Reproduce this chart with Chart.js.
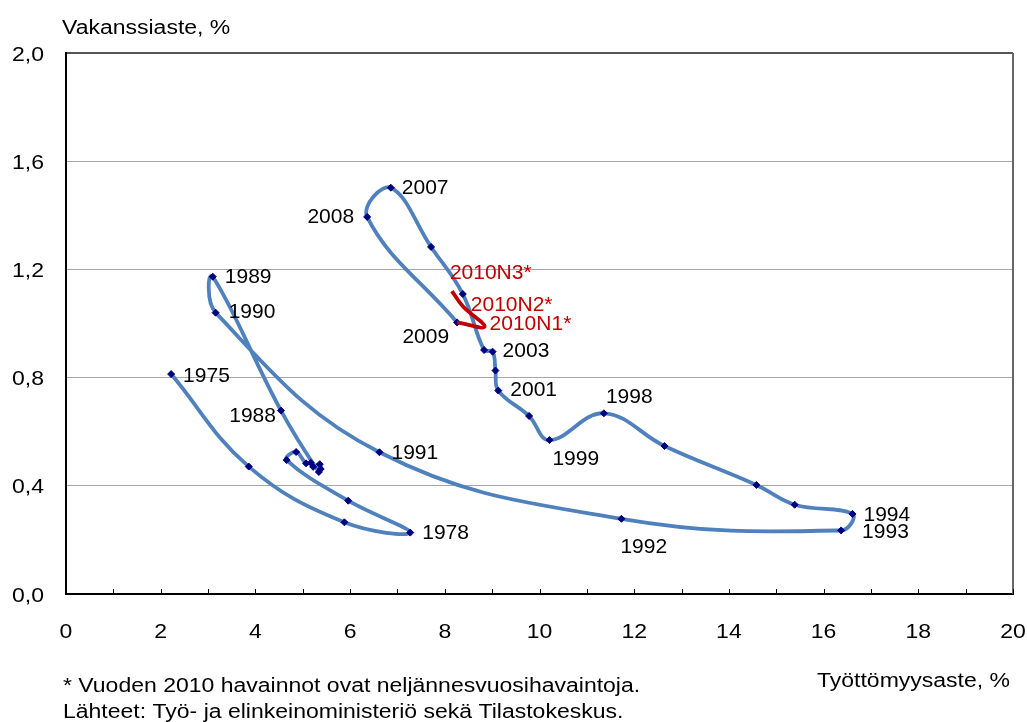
<!DOCTYPE html>
<html>
<head>
<meta charset="utf-8">
<script src="https://cdn.jsdelivr.net/npm/chart.js@4.4.1/dist/chart.umd.min.js"></script>
<style>
  html, body { margin: 0; padding: 0; background: #fff; }
  #wrap { width: 1027px; height: 722px; position: relative; }
</style>
</head>
<body>
<div id="wrap"><canvas id="beveridge"></canvas></div>
<script>
// Beveridge curve: unemployment rate (x) vs vacancy rate (y), Finland

const years = [
  '1975', '1976', '1977', '1978', '1979', '1980', '1981', '1982', '1983', '1984',
  '1985', '1986', '1987', '1988', '1989', '1990', '1991', '1992', '1993', '1994',
  '1995', '1996', '1997', '1998', '1999', '2000', '2001', '2002', '2003', '2004',
  '2005', '2006', '2007', '2008', '2009'
];
const unemployment = [
  2.22, 3.86, 5.88, 7.27, 5.96, 4.66, 4.86, 5.07, 5.17, 5.22,
  5.36, 5.38, 5.34, 4.54, 3.10, 3.16, 6.62, 11.73, 16.37, 16.61,
  15.39, 14.58, 12.64, 11.36, 10.21, 9.78, 9.13, 9.07, 9.01, 8.83,
  8.38, 7.71, 6.86, 6.36, 8.26
];
const vacancy = [
  0.813, 0.471, 0.265, 0.227, 0.345, 0.495, 0.525, 0.483, 0.485, 0.470,
  0.480, 0.462, 0.451, 0.678, 1.173, 1.040, 0.524, 0.278, 0.235, 0.296,
  0.330, 0.403, 0.547, 0.668, 0.569, 0.658, 0.752, 0.826, 0.896, 0.902,
  1.109, 1.283, 1.502, 1.394, 1.004
];

// 2010 quarterly observations, joined to 2009
const quarters = ['2009', '2010N1*', '2010N2*', '2010N3*'];
const quarterUnemployment = [8.26, 8.84, 8.38, 8.15];
const quarterVacancy = [1.004, 0.988, 1.064, 1.120];

const yTicks = [0, 0.4, 0.8, 1.2, 1.6, 2.0];
const xTicks = [0, 2, 4, 6, 8, 10, 12, 14, 16, 18, 20];

const FONT = 'Liberation Sans, Arial, sans-serif';
const BLUE = '#4f81bd';
const NAVY = '#000080';
const RED = '#c00000';
const STRETCH = 1.15; // axis text in the original is a bit wide

// where each year label sits relative to its point: [dx, dy, align]
const labelPlacement = {
  '1975': [12, 2, 'left'],
  '1978': [12, 1, 'left'],
  '1988': [-5, 6, 'right'],
  '1989': [12, 0, 'left'],
  '1990': [13, 0, 'left'],
  '1991': [12, 1, 'left'],
  '1992': [-1, 28, 'left'],
  '1993': [21, 2, 'left'],
  '1994': [11, 1, 'left'],
  '1998': [2, -16, 'left'],
  '1999': [3, 19, 'left'],
  '2001': [12, 0, 'left'],
  '2003': [10, 0, 'left'],
  '2007': [11, 0, 'left'],
  '2008': [-13, 0, 'right'],
  '2009': [-8, 15, 'right'],
};
const quarterPlacement = {
  '2010N1*': [5, -3, 'left'],
  '2010N2*': [8, -1, 'left'],
  '2010N3*': [-2, -18, 'left'],
};

const yearPoints = years.map((_, i) => ({ x: unemployment[i], y: vacancy[i] }));
const quarterPoints = quarters.map((_, i) => ({ x: quarterUnemployment[i], y: quarterVacancy[i] }));

function wideText(ctx, text, x, y, align) {
  ctx.save();
  ctx.translate(x, y);
  ctx.scale(STRETCH, 1);
  ctx.textAlign = align;
  ctx.fillText(text, 0, 0);
  ctx.restore();
}

const decorations = {
  id: 'decorations',
  afterDatasetsDraw(chart) {
    const { ctx, chartArea: a, scales } = chart;
    const xs = scales.x, ys = scales.y;
    ctx.save();

    // right frame edge
    ctx.strokeStyle = '#666';
    ctx.lineWidth = 2;
    ctx.beginPath();
    ctx.moveTo(a.right, a.top);
    ctx.lineTo(a.right, a.bottom);
    ctx.stroke();

    // tick marks pointing into the plot on the x axis
    ctx.strokeStyle = '#000';
    ctx.lineWidth = 1;
    xs.ticks.forEach(t => {
      const px = Math.round(xs.getPixelForValue(t.value)) + 0.5;
      ctx.beginPath();
      ctx.moveTo(px, a.bottom);
      ctx.lineTo(px, a.bottom - 5);
      ctx.stroke();
    });

    // tick labels
    ctx.fillStyle = '#000';
    ctx.font = '20px ' + FONT;
    ctx.textBaseline = 'middle';
    xs.ticks.forEach(t => {
      if (!xTicks.includes(t.value)) return;
      wideText(ctx, String(t.value), xs.getPixelForValue(t.value), 632, 'center');
    });
    ys.ticks.forEach(t => {
      wideText(ctx, t.value.toFixed(1).replace('.', ','), 44, ys.getPixelForValue(t.value) + 2, 'right');
    });

    // year labels
    ctx.font = '21px ' + FONT;
    years.forEach((yr, i) => {
      const p = labelPlacement[yr];
      if (!p) return;
      ctx.textAlign = p[2];
      ctx.fillText(yr, xs.getPixelForValue(unemployment[i]) + p[0], ys.getPixelForValue(vacancy[i]) + p[1]);
    });
    ctx.fillStyle = RED;
    quarters.forEach((q, i) => {
      const p = quarterPlacement[q];
      if (!p) return;
      ctx.textAlign = p[2];
      ctx.fillText(q, xs.getPixelForValue(quarterUnemployment[i]) + p[0], ys.getPixelForValue(quarterVacancy[i]) + p[1]);
    });

    // titles and notes
    ctx.fillStyle = '#000';
    ctx.font = '20px ' + FONT;
    wideText(ctx, 'Vakanssiaste, %', 62, 28, 'left');
    wideText(ctx, 'Työttömyysaste, %', 1010, 681, 'right');
    wideText(ctx, '* Vuoden 2010 havainnot ovat neljännesvuosihavaintoja.', 63, 686, 'left');
    wideText(ctx, 'Lähteet: Työ- ja elinkeinoministeriö sekä Tilastokeskus.', 63, 712, 'left');
    ctx.restore();
  }
};

new Chart(document.getElementById('beveridge'), {
  type: 'scatter',
  data: {
    datasets: [
      {
        label: 'Vuodet',
        data: yearPoints,
        showLine: true,
        tension: 0.4,
        borderColor: BLUE,
        borderWidth: 3.8,
        pointStyle: 'rectRot',
        pointRadius: 3.5,
        pointBackgroundColor: NAVY,
        pointBorderColor: NAVY,
        pointBorderWidth: 1,
      },
      {
        label: '2010',
        data: quarterPoints,
        showLine: true,
        tension: 0.4,
        borderColor: RED,
        borderWidth: 3.8,
        pointRadius: 0,
        order: -1,
      },
    ]
  },
  options: {
    responsive: true,
    maintainAspectRatio: false,
    animation: false,
    layout: { padding: { top: 53, right: 14, left: 0, bottom: 0 } },
    plugins: {
      legend: { display: false },
      tooltip: { enabled: false },
    },
    scales: {
      x: {
        type: 'linear',
        min: 0,
        max: 20,
        afterFit: s => { s.height = 128; },
        afterBuildTicks: s => { s.ticks = Array.from({ length: 21 }, (_, i) => ({ value: i })); },
        ticks: { display: false },
        grid: { display: false, drawTicks: false },
        border: { display: true, color: '#000', width: 2 },
      },
      y: {
        min: 0,
        max: 2,
        afterFit: s => { s.width = 66; },
        afterBuildTicks: s => { s.ticks = yTicks.map(v => ({ value: v })); },
        ticks: { display: false },
        grid: {
          drawTicks: false,
          color: c => c.tick && c.tick.value === 2 ? '#555' : (c.tick && c.tick.value === 0 ? 'rgba(0,0,0,0)' : '#a6a6a6'),
          lineWidth: c => c.tick && c.tick.value === 2 ? 2 : 1,
        },
        border: { display: true, color: '#000', width: 2 },
      },
    },
  },
  plugins: [decorations],
});
</script>
</body>
</html>
